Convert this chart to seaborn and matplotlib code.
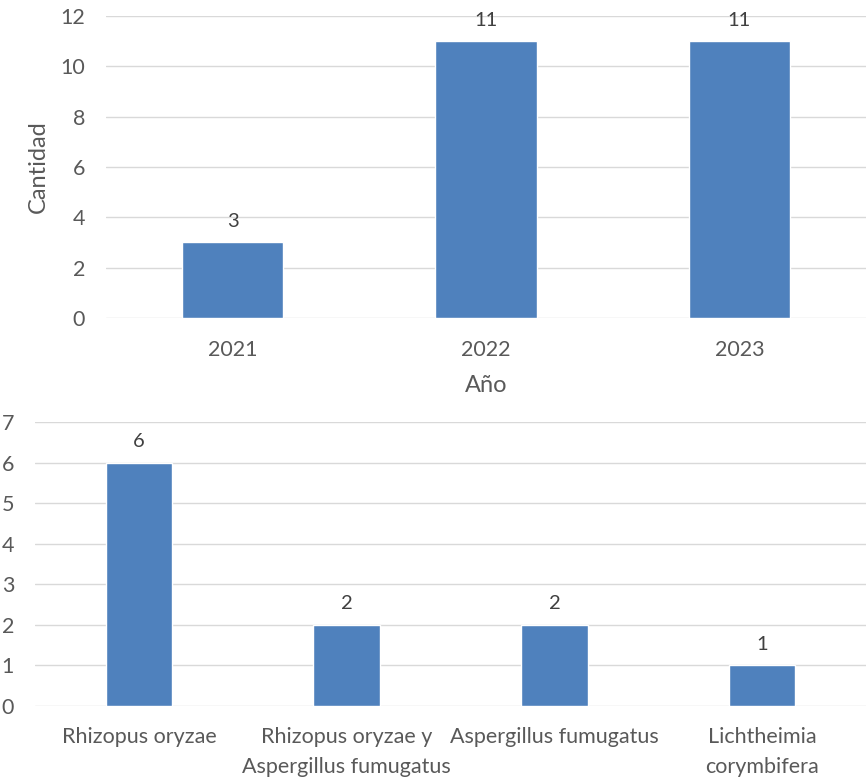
import matplotlib
matplotlib.use("Agg")
import matplotlib.pyplot as plt
import seaborn as sns
import pandas as pd

# Data
years = ["2021", "2022", "2023"]
year_counts = [3, 11, 11]

species = ["Rhizopus oryzae", "Rhizopus oryzae y\nAspergillus fumugatus",
           "Aspergillus fumugatus", "Lichtheimia\ncorymbifera"]
species_counts = [6, 2, 2, 1]

top_yticks = [0, 2, 4, 6, 8, 10, 12]
bottom_yticks = [0, 1, 2, 3, 4, 5, 6, 7]

sns.set_theme(style="white")
plt.rcParams['font.family'] = ['Lato', 'DejaVu Sans']

BAR = "#4F81BD"
TXT = "#595959"
LBL = "#404040"
GRID = "#D9D9D9"

fig = plt.figure(figsize=(8.67, 7.79), dpi=100)
ax1 = fig.add_axes([106/867, 1-318/779, 760/867, (318-16)/779])
ax2 = fig.add_axes([35/867, 1-706/779, 831/867, (706-422)/779])

df1 = pd.DataFrame({"Año": years, "Cantidad": year_counts})
df2 = pd.DataFrame({"Especie": species, "Cantidad": species_counts})

sns.barplot(data=df1, x="Año", y="Cantidad", order=years, color=BAR,
            width=0.4, saturation=1, ax=ax1, zorder=3)
sns.barplot(data=df2, x="Especie", y="Cantidad", order=species, color=BAR,
            width=0.32, saturation=1, ax=ax2, zorder=3)

for ax, ticks in ((ax1, top_yticks), (ax2, bottom_yticks)):
    ax.set_ylim(ticks[0], ticks[-1])
    ax.set_yticks(ticks)
    ax.yaxis.grid(True, color=GRID, linewidth=1.0, zorder=0)
    ax.set_axisbelow(True)
    for s in ax.spines.values():
        s.set_visible(False)
    ax.tick_params(axis="both", length=0, labelsize=15.5, labelcolor=TXT)
    ax.tick_params(axis="y", pad=15)
    for c in ax.containers:
        ax.bar_label(c, fmt="%d", padding=9, fontsize=14.5, color=LBL)

ax1.tick_params(axis="x", pad=16)
ax2.tick_params(axis="x", pad=15)
for t in ax2.get_xticklabels():
    t.set_linespacing(1.62)

ax1.set_xlabel("Año", fontsize=17, color=TXT, labelpad=11)
ax1.set_ylabel("Cantidad", fontsize=17, color=TXT, labelpad=8)
ax2.set_xlabel("")
ax2.set_ylabel("")

fig.savefig("out.png", dpi=100, facecolor="white")
